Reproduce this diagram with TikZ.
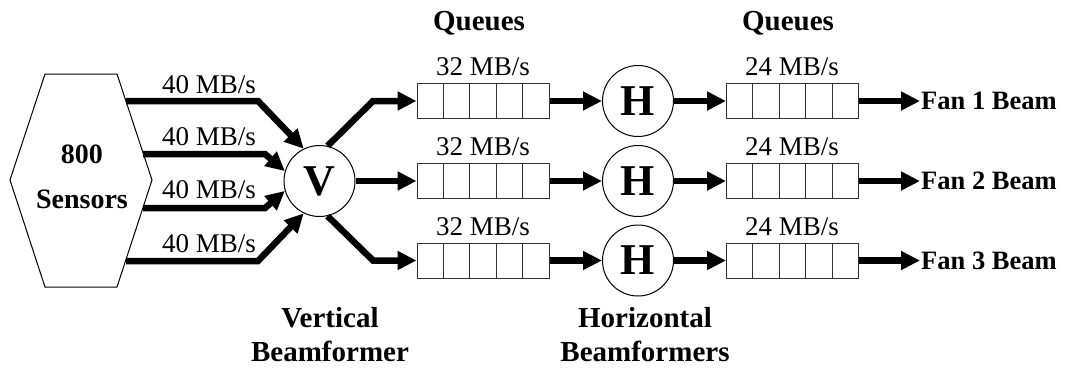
\documentclass[tikz,border=0pt]{standalone}
\usepackage{fontspec}
\setmainfont{Liberation Serif}
\usetikzlibrary{arrows.meta,calc}
\definecolor{qgray}{RGB}{50,50,50}
\begin{document}
\begin{tikzpicture}[x=1pt,y=-1pt,
  arr/.style={line width=6.5pt,-{Triangle[length=19pt,width=18pt]}},
  rate/.style={font=\fontsize{27}{32}\selectfont, anchor=base, inner sep=0},
  lbl/.style={font=\fontsize{29}{34}\selectfont\bfseries, align=center, inner sep=0},
  bf/.style={circle, draw, line width=1pt, minimum size=71pt, inner sep=0, font=\fontsize{44}{44}\selectfont\bfseries},
  fan/.style={font=\fontsize{26.5}{32}\selectfont\bfseries, anchor=west, inner sep=1pt},
  hexa/.style={draw, line width=1pt},
  queue/.style={draw=qgray, line width=1pt, minimum width=132pt, minimum height=35pt, inner sep=0,
    path picture={\foreach \i in {1,2,3,4}{\draw[qgray,line width=1pt]
      ($(path picture bounding box.south west)!\i/5!(path picture bounding box.south east)$) --
      ($(path picture bounding box.north west)!\i/5!(path picture bounding box.north east)$);}}}]
\useasboundingbox (0,0) rectangle (1068,368);

% sensors hexagon
\draw[hexa] (45,74) -- (117,74) -- (152,180) -- (117,287) -- (45,287) -- (10,180) -- cycle;
\node[lbl, font=\fontsize{28}{45}\selectfont\bfseries] (sens) at (82,177) {800\\Sensors};
\coordinate (s1) at (126,101);
\coordinate (s2) at (143,154);
\coordinate (s3) at (143,208);
\coordinate (s4) at (126,261);
\coordinate (b1) at (258,101);
\coordinate (b2) at (265,154);
\coordinate (b3) at (265,208);
\coordinate (b4) at (258,261);

% vertical beamformer
\node[bf] (V) at (319.5,181) {V};

% queues
\node[queue] (qa1) at (483,101) {};
\node[queue] (qa2) at (483,181) {};
\node[queue] (qa3) at (483,260.5) {};
\node[queue] (qb1) at (792.5,101) {};
\node[queue] (qb2) at (792.5,181) {};
\node[queue] (qb3) at (792.5,260.5) {};

% horizontal beamformers
\node[bf] (H1) at (638,101) {H};
\node[bf] (H2) at (638,181) {H};
\node[bf] (H3) at (638,260.5) {H};

% outputs
\node[fan] (f1) at (920,101) {Fan 1 Beam};
\node[fan] (f2) at (920,181) {Fan 2 Beam};
\node[fan] (f3) at (920,260.5) {Fan 3 Beam};

% rate labels
\node[rate] (r1) at (209,93) {40 MB/s};
\node[rate] (r2) at (209,145) {40 MB/s};
\node[rate] (r3) at (209,198) {40 MB/s};
\node[rate] (r4) at (209,252) {40 MB/s};
\node[rate] (ra1) at (483,75) {32 MB/s};
\node[rate] (ra2) at (483,155) {32 MB/s};
\node[rate] (ra3) at (483,235) {32 MB/s};
\node[rate] (rb1) at (792,75) {24 MB/s};
\node[rate] (rb2) at (792,155) {24 MB/s};
\node[rate] (rb3) at (792,235) {24 MB/s};

% headings
\node[lbl, anchor=base] (qh1) at (479,30) {Queues};
\node[lbl, anchor=base] (qh2) at (788,30) {Queues};
\node[lbl] (vb) at (330,335) {Vertical\\Beamformer};
\node[lbl] (hb) at (645,335) {Horizontal\\Beamformers};

% connectors: sensors -> V
\draw[arr] (s1) -- (b1) -- (V.116);
\draw[arr] (s2) -- (b2) -- (V.164);
\draw[arr] (s3) -- (b3) -- (V.196);
\draw[arr] (s4) -- (b4) -- (V.244);

% V -> queues
\coordinate (c1) at (373,101);
\coordinate (c3) at (373,260.5);
\draw[arr] (V.77) -- (c1) -- (qa1.west);
\draw[arr] (V.east) -- (qa2.west);
\draw[arr] (V.-77) -- (c3) -- (qa3.west);

% queues -> H -> queues -> fans
\foreach \i in {1,2,3}{
  \draw[arr] (qa\i.east) -- (H\i.west);
  \draw[arr] (H\i.east) -- (qb\i.west);
  \draw[arr] (qb\i.east) -- (f\i.west);
}
\end{tikzpicture}
\end{document}
